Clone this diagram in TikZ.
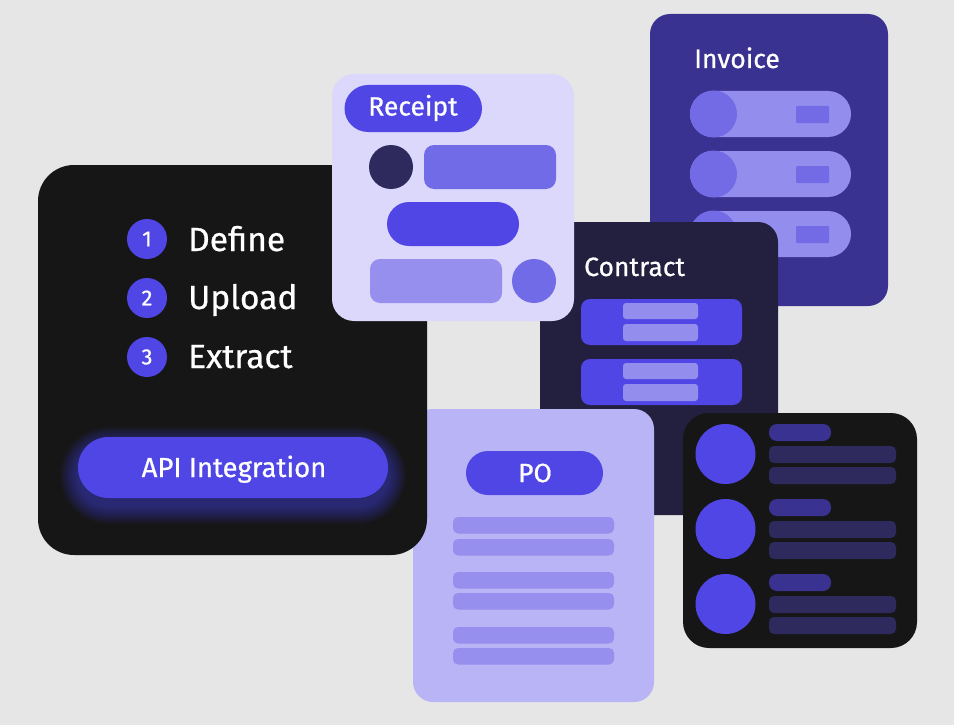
\documentclass[tikz,border=0pt]{standalone}
\usepackage{fontspec}
\setmainfont[FakeBold=0.6]{Fira Sans}
\definecolor{bg}{HTML}{E6E6E6}
\definecolor{panel}{HTML}{161616}
\definecolor{indigo}{HTML}{4F46E5}
\definecolor{rcpbg}{HTML}{DCD8FB}
\definecolor{darkdot}{HTML}{2E2A5E}
\definecolor{mid}{HTML}{716BE8}
\definecolor{lite}{HTML}{968FEE}
\definecolor{invbg}{HTML}{3A3291}
\definecolor{invpill}{HTML}{938EEE}
\definecolor{invdot}{HTML}{736BE6}
\definecolor{conbg}{HTML}{221F3F}
\definecolor{pobg}{HTML}{B8B4F6}
\definecolor{barshort}{HTML}{3A3291}
\definecolor{barlong}{HTML}{2E2A5E}
\tikzset{
  lbl/.style={text=white,inner sep=0pt,font=\fontsize{26.5}{30}\selectfont},
  steplbl/.style={text=white,inner sep=0pt,anchor=base west,font=\fontsize{33.5}{38}\selectfont},
  numlbl/.style={text=white,inner sep=0pt,font=\fontsize{22}{26}\selectfont},
}
\begin{document}
\begin{tikzpicture}[x=1pt,y=-1pt]
\useasboundingbox (0,0) rectangle (954,725);
\fill[bg] (0,0) rectangle (954,725);

% ---------- Invoice card ----------
\fill[invbg, rounded corners=20pt] (650,14) rectangle (888,306);
\node[lbl, anchor=base west] (invoice) at (694,68) {Invoice};
\foreach \y in {91,151,211}{
  \fill[invpill, rounded corners=23pt] (690,\y) rectangle (851,\y+46);
  \fill[invdot] (713.5,\y+23) circle (23.5pt);
  \fill[invdot, rounded corners=1pt] (796,\y+15) rectangle (829,\y+32);
}

% ---------- Contract card ----------
\fill[conbg, rounded corners=20pt] (540,222) rectangle (778,515);
\node[lbl, anchor=base west] (contract) at (584,276) {Contract};
\foreach \y in {299,359}{
  \fill[indigo, rounded corners=9pt] (581,\y) rectangle (742,\y+46);
  \fill[invpill, rounded corners=3pt] (623,\y+4) rectangle (698,\y+20);
  \fill[invpill, rounded corners=3pt] (623,\y+25) rectangle (698,\y+42);
}

% ---------- PO card ----------
\fill[pobg, rounded corners=20pt] (413,409) rectangle (654,702);
\fill[indigo, rounded corners=22pt] (466,451) rectangle (603,495);
\node[lbl] (po) at (535,473) {PO};
\foreach \y in {517,539,572,593,627,648}{
  \fill[lite, rounded corners=5pt] (453,\y) rectangle (614,\y+16.5);
}

% ---------- Right dark card ----------
\fill[panel, rounded corners=26pt] (683,413) rectangle (917,648);
\foreach \y in {424,499,574}{
  \fill[indigo] (725.5,\y+30) circle (30pt);
  \fill[barshort, rounded corners=8pt] (769,\y) rectangle (831,\y+17);
  \fill[barlong, rounded corners=5pt] (769,\y+22) rectangle (896,\y+39);
  \fill[barlong, rounded corners=5pt] (769,\y+43) rectangle (896,\y+60);
}

% ---------- Left dark panel ----------
\fill[panel, rounded corners=36pt] (38,165) rectangle (427,555);
\node[numlbl, circle, fill=indigo, minimum size=40pt] (n1) at (147,239) {1};
\node[numlbl, circle, fill=indigo, minimum size=40pt] (n2) at (147,298) {2};
\node[numlbl, circle, fill=indigo, minimum size=40pt] (n3) at (147,357) {3};
\node[steplbl] (define) at (188,251) {Define};
\node[steplbl] (upload) at (188,309) {Upload};
\node[steplbl] (extract) at (188,368) {Extract};
% glow
\foreach \i in {1,...,18}{
  \pgfmathsetmacro\rr{30.5+\i}
  \fill[indigo, opacity=0.035, rounded corners=\rr pt] (78-\i,437-\i+8) rectangle (388+\i,498+\i+8);
}
\fill[indigo, rounded corners=30.5pt] (78,437) rectangle (388,498);
\node[text=white, inner sep=0pt, anchor=base, font=\fontsize{27.5}{32}\selectfont] (api) at (234,477) {API Integration};

% ---------- Receipt card ----------
\fill[rcpbg, rounded corners=22pt] (332,74) rectangle (574,321);
\fill[indigo, rounded corners=23.5pt] (344.5,85) rectangle (482,132);
\node[lbl] (receipt) at (413,108) {Receipt};
\fill[darkdot] (391,167) circle (22pt);
\fill[mid, rounded corners=10pt] (424,145) rectangle (556,189);
\fill[indigo, rounded corners=22pt] (387,202) rectangle (519,246);
\fill[lite, rounded corners=10pt] (370,259) rectangle (502,303);
\fill[mid] (534,281) circle (22pt);
\end{tikzpicture}
\end{document}
